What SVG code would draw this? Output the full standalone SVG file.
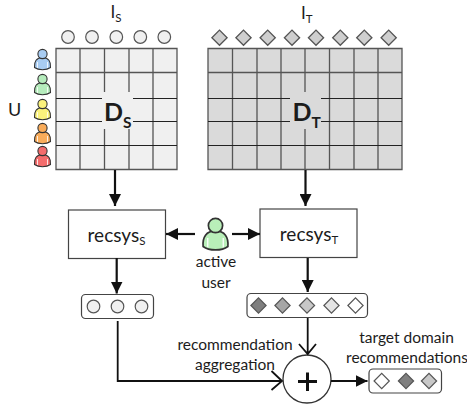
<svg xmlns="http://www.w3.org/2000/svg" width="467" height="408" viewBox="0 0 467 408">
<style>
text{font-family:Lato,"Liberation Sans",sans-serif;fill:#1c1c1c}
.l{font-size:15.5px;text-anchor:middle}
.g{stroke:#555;stroke-width:1.300;fill:none}
.h{stroke:#222;stroke-width:1;fill:none}
.c{stroke:#111;fill:none;stroke-width:2.200}
.t{stroke:#111;fill:none;stroke-width:1.800}
.box{fill:#fff;stroke:#444;stroke-width:1.200}
.it{stroke:#555;stroke-width:1.200}
.o{fill:#f0f0f0;stroke:#555;stroke-width:1.200}
</style>
<defs>
<marker id="a" markerWidth="12" markerHeight="12" refX="10" refY="5" orient="auto" markerUnits="userSpaceOnUse" viewBox="0 0 10 10"><path d="M0 0L10 5L0 10z" fill="#111"/></marker>
<path id="d" d="M-7.600 0L0-7.600L7.600 0L0 7.600z"/>
<g id="p"><path d="M-8 9C-8.500 3-6-1 0-1S8.500 3 8 9C4 12-4 12-8 9z" stroke="#333" stroke-width="1.100"/><circle cy="-4.500" r="4.600" stroke="#333" stroke-width="1.100"/><path d="M5 3.500V9.500M-5 3.500V9.500" stroke="#fff" stroke-width="0.800"/></g>
</defs>
<g id="matrix-s">
<rect x="56" y="48.500" width="121" height="121" fill="#f0f0f0"/>
<path class="g" d="M56 48.500H177V169.500H56zM56 72.500H177M80 48.500V169.500M104.500 48.500V92M104.500 129V169.500M129 48.500V92M129 129V169.500M153 48.500V169.500"/>
<path class="h" d="M56 98.500H102M133 98.500H177M56 121.500H102M133 121.500H177M56 145.500H177"/>
<text x="104" y="121" font-size="25" font-weight="700">D<tspan font-size="15.500" dy="7">S</tspan></text>
</g>
<g id="matrix-t">
<rect x="208" y="48.500" width="194" height="121" fill="#dadada"/>
<path class="g" d="M208 48.500H402V169.500H208zM208 72.500H402M232.500 48.500V169.500M257 48.500V169.500M281 48.500V169.500M305 48.500V92M305 129V169.500M329.500 48.500V169.500M354 48.500V169.500M378 48.500V169.500"/>
<path class="h" d="M208 98.500H290M321 98.500H402M208 121.500H290M321 121.500H402M208 145.500H402"/>
<text x="292.500" y="121" font-size="25" font-weight="700">D<tspan font-size="15.500" dy="7">T</tspan></text>
</g>
<g id="items-s">
<text x="110.500" y="18" font-size="17">I<tspan font-size="11.500" dy="4">S</tspan></text>
<circle class="o" cx="68" cy="37" r="6.300"/><circle class="o" cx="92" cy="37" r="6.300"/><circle class="o" cx="116.300" cy="37" r="6.300"/><circle class="o" cx="140.300" cy="37" r="6.300"/><circle class="o" cx="164.300" cy="37" r="6.300"/>
</g>
<g id="items-t" fill="#cfcfcf" stroke="#555" stroke-width="1.300">
<text x="301" y="18.500" font-size="17" stroke="none">I<tspan font-size="11.500" dy="4">T</tspan></text>
<use href="#d" x="219.500" y="37.700"/><use href="#d" x="243.500" y="37.700"/><use href="#d" x="267.700" y="37.700"/><use href="#d" x="292" y="37.700"/><use href="#d" x="316" y="37.700"/><use href="#d" x="340.300" y="37.700"/><use href="#d" x="364.300" y="37.700"/><use href="#d" x="388.700" y="37.700"/>
</g>
<g id="users">
<text x="14.500" y="116" font-size="18" text-anchor="middle">U</text>
<use href="#p" x="42.500" y="58.500" fill="#a8ccf2"/>
<use href="#p" x="42.500" y="83.500" fill="#b5ecbc"/>
<use href="#p" x="42.500" y="108.500" fill="#fbf27c"/>
<use href="#p" x="42.500" y="132.500" fill="#f9ac5a"/>
<use href="#p" x="42.500" y="155.500" fill="#f46c6c"/>
</g>
<g id="recsys-s"><rect class="box" x="68.500" y="210" width="97" height="48.500"/><text x="116.500" y="241.500" font-size="19" text-anchor="middle">recsys<tspan font-size="11.500" dy="3">S</tspan></text></g>
<g id="recsys-t"><rect class="box" x="260" y="209" width="97" height="48.500"/><text x="309" y="240.500" font-size="19" text-anchor="middle">recsys<tspan font-size="11.500" dy="3">T</tspan></text></g>
<g id="active-user">
<use href="#p" transform="translate(215.500 232.500) scale(1.550)" fill="#b9efb9"/>
<text x="216" y="267" class="l">active</text><text x="216" y="288" class="l">user</text>
</g>
<g id="list-s"><rect class="box" x="81.500" y="294.500" width="72" height="24" rx="4"/>
<circle class="o" cx="93.500" cy="306.500" r="6.300"/><circle class="o" cx="117.500" cy="306.500" r="6.300"/><circle class="o" cx="141.500" cy="306.500" r="6.300"/></g>
<g id="list-t"><rect class="box" x="247" y="293.500" width="120.500" height="24" rx="4"/>
<use href="#d" x="258.500" y="305.500" fill="#7f7f7f" class="it"/><use href="#d" x="282.500" y="305.500" fill="#a6a6a6" class="it"/><use href="#d" x="307" y="305.500" fill="#c8c8c8" class="it"/><use href="#d" x="331.500" y="305.500" fill="#e4e4e4" class="it"/><use href="#d" x="355.500" y="305.500" fill="#fff" class="it"/></g>
<g id="aggregation">
<circle cx="307" cy="379" r="24" fill="#fff" stroke="#333" stroke-width="1.300"/>
<path d="M298 381.500H317M307.500 372.500V391" stroke="#111" stroke-width="3" fill="none"/>
<text x="235" y="350" class="l">recommendation</text><text x="235" y="370" class="l">aggregation</text>
</g>
<g id="list-r"><rect class="box" x="369" y="369" width="72.500" height="24" rx="4"/>
<use href="#d" x="381.700" y="381" fill="#fff" class="it"/><use href="#d" x="406" y="381" fill="#7f7f7f" class="it"/><use href="#d" x="429" y="381" fill="#c8c8c8" class="it"/>
<text x="406.500" y="343" class="l">target domain</text><text x="407" y="363" class="l">recommendations</text></g>
<g id="connectors">
<path class="c" d="M115 170V206" marker-end="url(#a)"/>
<path class="c" d="M305.500 170V206" marker-end="url(#a)"/>
<path class="c" d="M195 234H166" marker-end="url(#a)"/>
<path class="c" d="M232 234H260" marker-end="url(#a)"/>
<path class="c" d="M116.700 258V293.500" marker-end="url(#a)"/>
<path class="c" d="M307.700 258V292" marker-end="url(#a)"/>
<path class="t" d="M117.700 321V381H281.500M271.500 371L282 381L271.500 390"/>
<path class="t" d="M307.700 318V353M299 344L307.700 354L316 344"/>
<path class="c" d="M331 381H367.500" marker-end="url(#a)"/>
</g>
</svg>
